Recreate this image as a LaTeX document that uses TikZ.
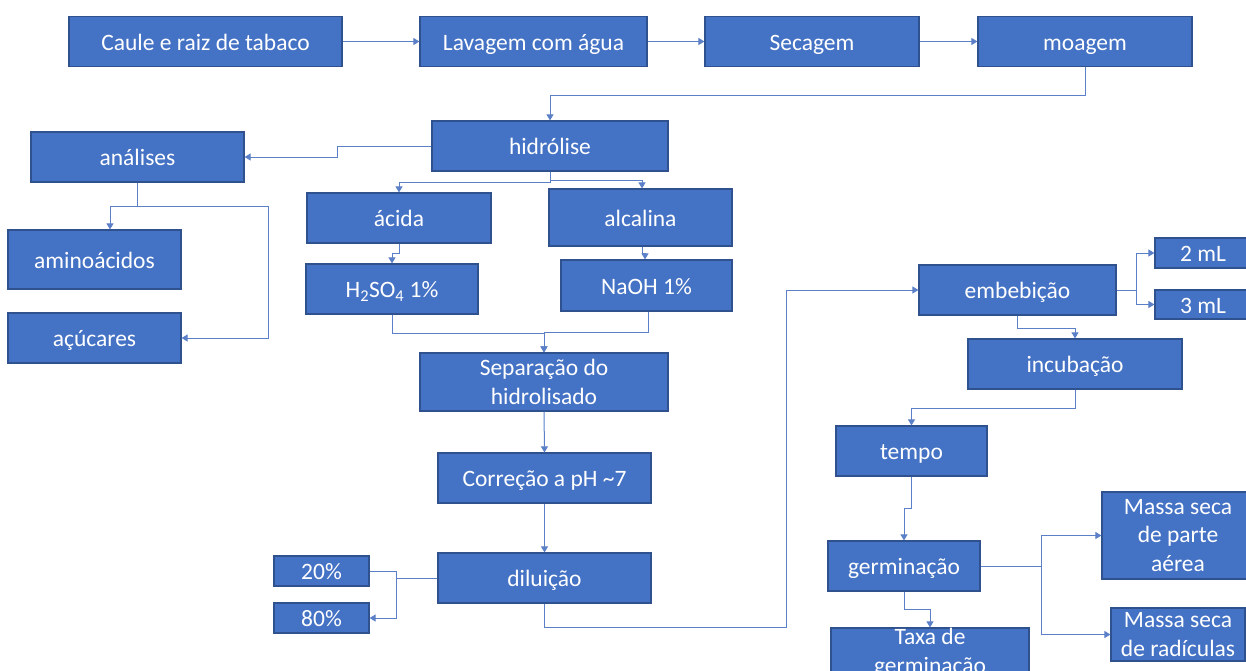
\documentclass[tikz,border=0pt]{standalone}
\usepackage{fontspec}
\setmainfont{Carlito}
\usetikzlibrary{arrows.meta}

\definecolor{boxblue}{HTML}{4472C4}
\definecolor{boxedge}{HTML}{2F528F}
\definecolor{linkblue}{HTML}{5B80C8}

\tikzset{
	stage/.style = {draw=boxedge, line width=1.2pt, fill=boxblue, text=white,
		inner sep=0pt, align=center, minimum height=50pt,
		font=\fontsize{23.5}{28.5}\selectfont},
	oneline/.style = {stage, text height=17pt, text depth=0pt},
	link/.style = {draw=linkblue, line width=1pt},
	flow/.style = {link, -{Triangle[width=7pt, length=6pt]}}
}

\begin{document}
\begin{tikzpicture}[x = 1pt, y = -1pt]
	\useasboundingbox (0,0) rectangle (1246,670);
	\clip (0,0) rectangle (1246,670);

	% preparo da amostra
	\node [oneline, minimum width=273pt] (caule) at (205.5,41.5) {Caule e raiz de tabaco};
	\node [oneline, minimum width=227pt] (lavagem) at (533.5,41.5) {Lavagem com água};
	\node [oneline, minimum width=214pt] (secagem) at (812,41.5) {Secagem};
	\node [oneline, minimum width=214pt] (moagem) at (1085,41.5) {moagem};

	% hidrolise e analises
	\node [oneline, minimum width=236pt] (hidrolise) at (550,146) {hidrólise};
	\node [oneline, minimum width=213pt] (analises) at (137.5,157) {análises};
	\node [oneline, minimum width=173pt, minimum height=59pt] (aminoacidos) at (94.5,259.5) {aminoácidos};
	\node [oneline, minimum width=173pt] (acucares) at (94.5,338) {açúcares};
	\node [oneline, minimum width=184pt] (acida) at (399,218) {ácida};
	\node [oneline, minimum width=183pt, minimum height=57pt] (alcalina) at (640.5,217.5) {alcalina};
	\node [oneline, minimum width=172pt] (acido) at (392,289) {H\textsubscript{2}SO\textsubscript{4} 1\%};
	\node [oneline, minimum width=171pt, minimum height=51pt] (base) at (646.5,285.5) {NaOH 1\%};
	\node [stage, minimum width=248pt, minimum height=58pt] (separacao) at (544,382) {Separação do\\hidrolisado};
	\node [oneline, minimum width=213pt] (correcao) at (544.5,478) {Correção a pH \textasciitilde7};
	\node [oneline, minimum width=213pt] (diluicao) at (544.5,578) {diluição};
	\node [oneline, minimum width=95pt, minimum height=30pt] (vinte) at (321.5,571) {20\%};
	\node [oneline, minimum width=95pt, minimum height=30pt] (oitenta) at (321.5,618) {80\%};

	% ensaio de germinacao
	\node [oneline, minimum width=197pt] (embebicao) at (1017.5,290) {embebição};
	\node [oneline, minimum width=96pt, minimum height=30pt] (doisml) at (1203,253) {2 mL};
	\node [oneline, minimum width=96pt, minimum height=29pt] (tresml) at (1203,304.5) {3 mL};
	\node [oneline, minimum width=214pt] (incubacao) at (1075,364) {incubação};
	\node [oneline, minimum width=151pt] (tempo) at (911.5,451) {tempo};
	\node [oneline, minimum width=152pt] (germinacao) at (904,566) {germinação};
	\node [stage, minimum width=198pt] (taxa) at (930,653) {Taxa de\\germinação};
	\node [stage, minimum width=152pt, minimum height=87pt] (aerea) at (1178,535.5) {Massa seca\\de parte\\aérea};
	\node [stage, minimum width=134pt, minimum height=53pt] (radiculas) at (1178,634.5) {Massa seca\\de radículas};

	% conexoes
	\draw [flow] (caule) -- (lavagem);
	\draw [flow] (lavagem) -- (secagem);
	\draw [flow] (secagem) -- (moagem);
	\draw [flow] (moagem.south) -- ++(0,28) -| (hidrolise.north);
	\draw [flow] (hidrolise.west) -- ++(-94,0) |- (analises.east);
	\draw [flow] (analises.south) -- ++(0,24) -| ([xshift=15.5pt]aminoacidos.north);
	\draw [flow] (analises.south) -- ++(0,24) -- ++(130.5,0) |- (acucares.east);
	\draw [flow] (hidrolise.south) -- ++(0,11) -| (acida.north);
	\draw [flow] (hidrolise.south) -- ++(0,9) -| ([xshift=1.5pt]alcalina.north);
	\draw [flow] (acida.south) -- ++(0,10) -| (acido.north);
	\draw [flow] ([xshift=1.5pt]alcalina.south) -- ++(0,7) -| ([xshift=-1.5pt]base.north);
	\draw [flow] (acido.south) -- ++(0,19) -| (separacao.north);
	\draw [flow] ([xshift=1.5pt]base.south) -- ++(0,21) -| (separacao.north);
	\draw [flow] (separacao.south) -- (correcao.north);
	\draw [flow] (correcao.south) -- (diluicao.north);
	\draw [link] (diluicao.west) -- ++(-41,0) |- (vinte.east);
	\draw [flow] (diluicao.west) -- ++(-41,0) |- (oitenta.east);
	\draw [flow] (diluicao.south) -- ++(0,24) -- ++(241.5,0) |- (embebicao.west);
	\draw [flow] (embebicao.east) -- ++(20,0) |- (doisml.west);
	\draw [flow] (embebicao.east) -- ++(20,0) |- (tresml.west);
	\draw [flow] (embebicao.south) -- ++(0,13) -| (incubacao.north);
	\draw [flow] (incubacao.south) -- ++(0,19) -| (tempo.north);
	\draw [flow] (tempo.south) -- ++(0,32) -| (germinacao.north);
	\draw [flow] (germinacao.south) -- ++(0,18) -| (taxa.north);
	\draw [flow] (germinacao.east) -- ++(61,0) |- (aerea.west);
	\draw [flow] (germinacao.east) -- ++(61,0) |- (radiculas.west);
\end{tikzpicture}
\end{document}
